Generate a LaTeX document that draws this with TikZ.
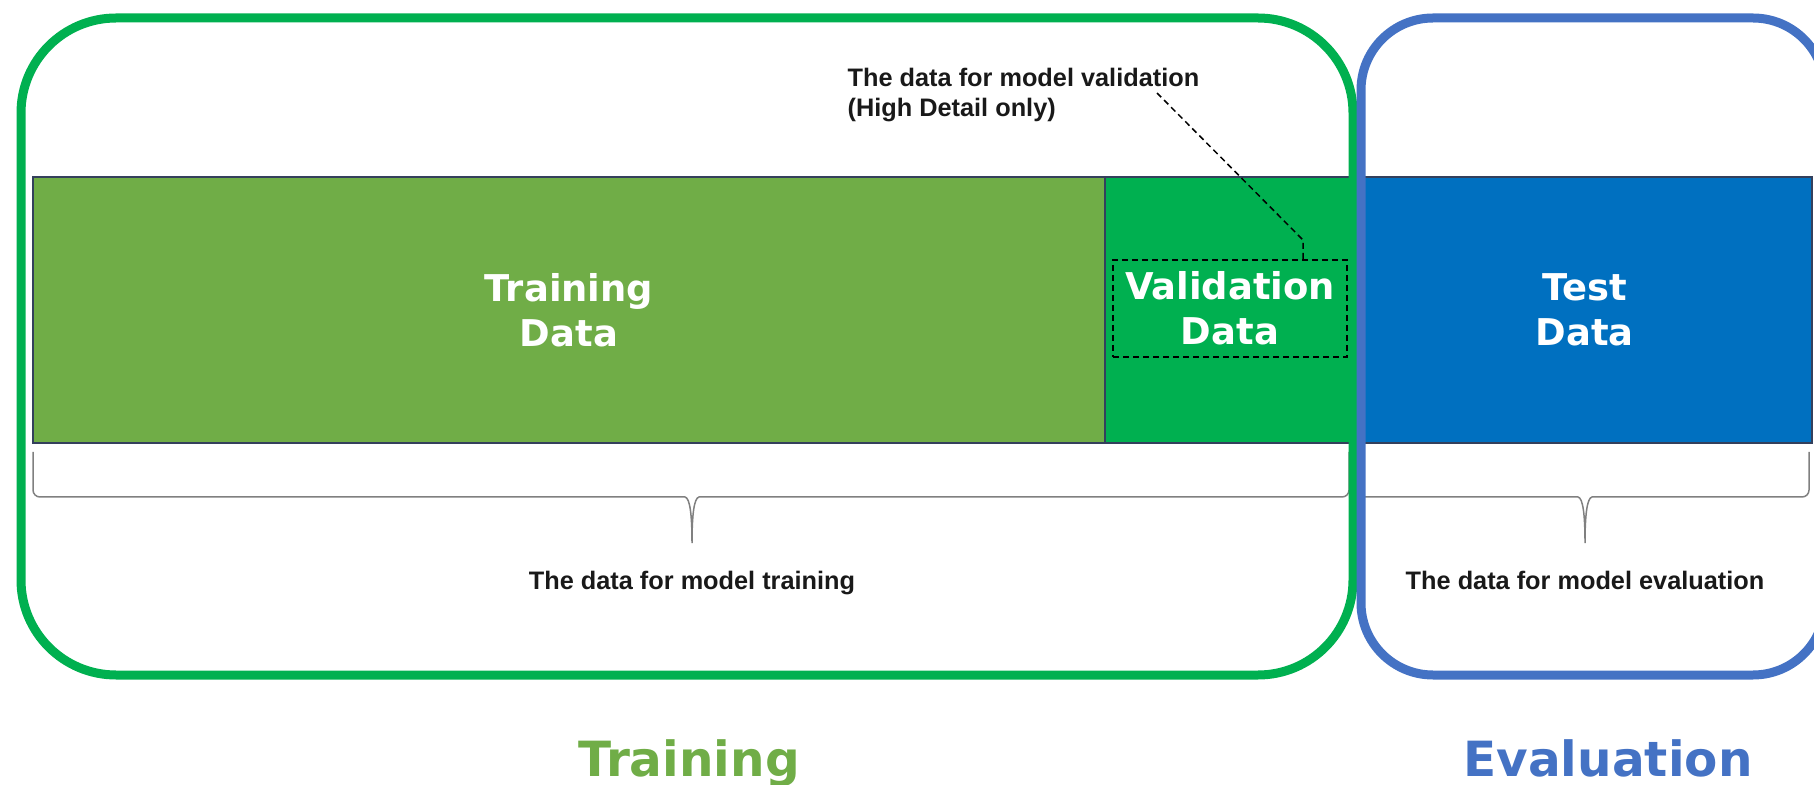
\documentclass[tikz,border=0pt]{standalone}
\usepackage{fontspec}
\setmainfont{Liberation Sans}
\newfontfamily\blockfont{DejaVu Sans}
\usepackage{tikz}
\usetikzlibrary{positioning}
\definecolor{trainGreen}{HTML}{70AD47}
\definecolor{valGreen}{HTML}{00B050}
\definecolor{testBlue}{HTML}{0070C0}
\definecolor{evalBlue}{HTML}{4472C4}
\definecolor{blockEdge}{HTML}{34405C}
\tikzset{
  block/.style={draw=blockEdge, line width=0.15mm, inner sep=0pt, outer sep=0pt,
    minimum height=26.6mm, text=white, align=center,
    font={\blockfont\bfseries\fontsize{10.5pt}{12.8pt}\selectfont}},
  valbox/.style={draw=black, line width=0.15mm, dash pattern=on 0.6mm off 0.4mm,
    inner sep=0pt, minimum width=23.4mm, minimum height=9.7mm, text=white, align=center,
    font={\blockfont\bfseries\fontsize{10.5pt}{12.8pt}\selectfont}},
  note/.style={inner sep=0pt, text=black!90, font={\bfseries\fontsize{7.2pt}{8.8pt}\selectfont}},
  bracepath/.style={draw=black!50, line width=0.15mm},
  leader/.style={draw=black, line width=0.15mm, dash pattern=on 0.6mm off 0.4mm},
  groupframe/.style={line width=0.9mm, rounded corners=9.5mm},
  grouptitle/.style={inner sep=0pt, font={\blockfont\bfseries\fontsize{13.8pt}{16pt}\selectfont}}}

\begin{document}
\begin{tikzpicture}[x=0.1mm, y=0.1mm]
\useasboundingbox (0,0) rectangle (1814,-785);
\clip (0,0) rectangle (1814,-785);
% data split
\node[block, fill=trainGreen, minimum width=107.2mm] (train) at (569,-310) {Training\\Data};
\node[block, fill=valGreen, minimum width=25.2mm, right=0mm of train] (val) {};
\node[block, fill=testBlue, minimum width=45.5mm, right=0mm of val] (test) {Test\\Data};
\node[valbox] (valtxt) at (1230,-308.5) {Validation\\Data};
% braces under the blocks
\coordinate (trTip) at (692,-543);
\coordinate (evTip) at (1585,-543);
\draw[bracepath] (33,-452) -- (33,-490) to[out=-90,in=180] (40,-497) -- (685,-497)
  .. controls (690,-498) and (692,-515) .. (trTip)
  .. controls (692,-515) and (694,-498) .. (699,-497) -- (1342,-497)
  to[out=0,in=-90] (1349,-490) -- (1349,-452);
\draw[bracepath] (1358,-452) -- (1358,-490) to[out=-90,in=180] (1365,-497) -- (1578,-497)
  .. controls (1583,-498) and (1585,-515) .. (evTip)
  .. controls (1585,-515) and (1587,-498) .. (1592,-497) -- (1802,-497)
  to[out=0,in=-90] (1809,-490) -- (1809,-452);
\node[note, below=2.7mm of trTip] (trnote) {The data for model training};
\node[note, below=2.7mm of evTip] (evnote) {The data for model evaluation};
% validation callout
\node[note, align=left, anchor=west] (valnote) at (847,-95) {The data for model validation\\(High Detail only)};
\coordinate (leadStart) at (1157,-93);
\coordinate (bend) at (1303,-240);
\draw[leader] (leadStart) -- (bend) -- (bend |- valtxt.north);
% group frames
\draw[groupframe, draw=valGreen] (21,-18) rectangle (1353,-675);
\draw[groupframe, draw=evalBlue, rounded corners=7.2mm] (1361,-18) rectangle (1825,-675);
\node[grouptitle, text=trainGreen, anchor=base] (trtitle) at (689,-776) {Training};
\node[grouptitle, text=evalBlue, anchor=base] (evtitle) at (1608,-776) {Evaluation};
\end{tikzpicture}
\end{document}
